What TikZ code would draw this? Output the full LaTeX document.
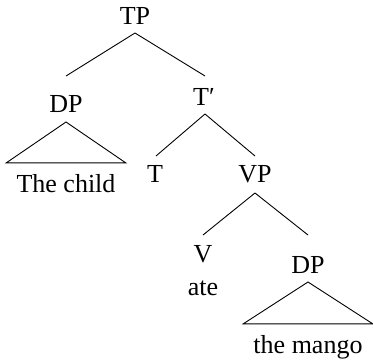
\documentclass[tikz,border=0pt]{standalone}
\usepackage{fontspec}
\setmainfont{Liberation Serif}
\begin{document}
\begin{tikzpicture}[x=1pt,y=-1pt,
  lbl/.style={anchor=base,inner sep=0pt,font=\fontsize{26}{30}\selectfont},
  leaf/.style={lbl,text height=19pt,inner xsep=10pt,inner ysep=10pt},
  edge/.style={line width=0.9pt}]
\useasboundingbox (0,0) rectangle (373,362);
\node[lbl] (TP) at (135,24) {TP};
\node[lbl] (DPa) at (66,112) {DP};
\node[leaf] (child) at (66,192) {The child};
\node[lbl] (Tbar) at (204,105) {T′};
\node[lbl] (T) at (155,182) {T};
\node[lbl] (VP) at (255,182) {VP};
\node[lbl] (V) at (203,262) {V};
\node[lbl] (ate) at (203,295) {ate};
\node[lbl] (DPb) at (308,273) {DP};
\node[leaf] (mango) at (308,353) {the mango};
\draw[edge] ([yshift=-9pt]TP.base) -- ([yshift=36pt]DPa.base);
\draw[edge] ([yshift=-9pt]TP.base) -- ([xshift=1pt,yshift=29pt]Tbar.base);
\draw[edge] ([xshift=1pt,yshift=-9pt]Tbar.base) -- ([xshift=1pt,yshift=26pt]T.base);
\draw[edge] ([xshift=1pt,yshift=-9pt]Tbar.base) -- ([yshift=26pt]VP.base);
\draw[edge] ([yshift=-11pt]VP.base) -- ([yshift=27pt]V.base);
\draw[edge] ([yshift=-11pt]VP.base) -- ([yshift=38pt]DPb.base);
\draw[edge] ([yshift=-10pt]DPa.base) -- (child.north west) -- (child.north east) -- cycle;
\draw[edge] ([yshift=-9pt]DPb.base) -- (mango.north west) -- (mango.north east) -- cycle;
\end{tikzpicture}
\end{document}
